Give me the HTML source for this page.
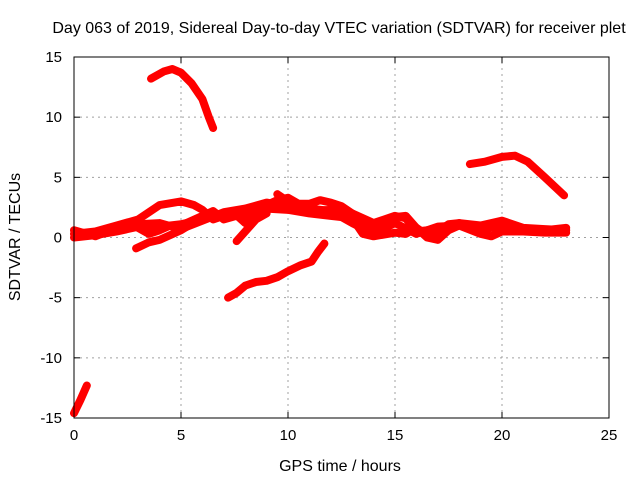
<!DOCTYPE html>
<html><head><meta charset="utf-8"><style>
body{margin:0;background:#fff}
svg{display:block;font-family:"Liberation Sans",sans-serif}
</style></head><body>
<svg id="chart" width="640" height="480">
<text x="339" y="33" font-size="16" text-anchor="middle">Day 063 of 2019, Sidereal Day-to-day VTEC variation (SDTVAR) for receiver plet</text>
<text x="340" y="471" font-size="16" text-anchor="middle">GPS time / hours</text>
<text x="20" y="237" font-size="16" text-anchor="middle" transform="rotate(-90 20 237)">SDTVAR / TECUs</text>
<g id="grid"></g><g id="series"></g>
<rect x="74" y="57" width="535" height="361" fill="none" stroke="#000" stroke-width="1"/>
</svg>
<script>
const xTicks=[0,5,10,15,20,25];
const yTicks=[-15,-10,-5,0,5,10,15];
const trackTop=[[3.6,13.2],[4.2,13.8],[4.6,14.0],[5.0,13.7],[5.5,12.8],[6.0,11.5],[6.3,10.0],[6.5,9.1]];
const trackUpperRight=[[18.5,6.1],[19.2,6.3],[20.0,6.7],[20.6,6.8],[21.2,6.3],[22.0,5.0],[22.9,3.5]];
const trackLowRise=[[7.2,-5.0],[7.6,-4.6],[8.0,-4.0],[8.5,-3.7],[9.0,-3.6],[9.5,-3.3],[10.0,-2.8],[10.6,-2.3],[11.1,-2.0],[11.4,-1.2],[11.7,-0.5]];
const trackBottomLeft=[[0.0,-14.6],[0.3,-13.5],[0.6,-12.3]];
const trackE=[[0,0.3],[1,0.5],[2,1.0],[3,1.5],[4,2.7],[5,3.0],[5.6,2.7],[6,2.3],[6.5,1.5],[7,1.8],[7.5,2.0],[8,1.2],[8.3,1.8],[9,2.7],[9.5,3.1],[10,3.3],[10.5,2.8],[11,2.8],[11.5,3.1],[12,2.9],[12.5,2.6],[13,2.0],[13.5,1.0],[14,0.5],[14.5,1.0],[15,1.7],[15.5,1.8],[16,0.8],[16.5,0.2],[17,0.5],[17.5,1.1],[18,1.2],[19,1.0],[20,1.4],[21,0.8],[22,0.7],[23,0.6]];
const trackF=[[0,0],[1,0.2],[2,0.5],[3,0.9],[4,1.0],[5,1.0],[6,1.8],[6.5,2.2],[7,1.5],[8,2.0],[9,2.4],[10,2.3],[11,2.0],[12,1.8],[13,1.6],[13.5,0.3],[14,0.1],[15,0.4],[15.5,0.3],[16,0.8],[16.5,0.0],[17,-0.2],[17.5,0.6],[18,1.0],[19,0.3],[19.5,0.1],[20,0.5],[21,0.5],[22,0.4],[23,0.4]];
const trackK=[[0,0.6],[1,0.1],[2,0.8],[3,1.1],[4,1.2],[5,0.7],[6,1.4],[7,2.1],[8,2.4],[9,2.9],[10,2.6],[11,2.4],[12,2.2],[13,1.2],[14,0.3],[15,1.2],[16,0.3],[17,0.9],[18,1.0],[19,0.6],[20,1.0],[21,0.7],[22,0.6],[23,0.8]];
const trackG=[[3,0.8],[3.5,0.3],[4,0.6],[4.5,1.0],[5,1.1],[6,1.5],[6.5,2.0]];
const trackH=[[2.9,-0.9],[3.5,-0.4],[4,-0.2],[5,0.6],[6,1.7]];
const trackI=[[7.6,-0.3],[8.0,0.5],[8.5,1.5],[9,2.0]];
const trackJ=[[9.5,3.6],[10,3.0],[10.5,2.4],[11,2.2],[12,2.3],[13,2.0],[14,1.2],[15,1.8],[15.5,1.6],[16,0.5],[17,0.7],[18,1.2]];
const tracks=[trackTop,trackUpperRight,trackLowRise,trackBottomLeft,trackE,trackF,trackK,trackG,trackH,trackI,trackJ];
const X0=74,X1=609,Y0=418,Y1=57;
const sx=h=>X0+(h-0)/25*(X1-X0);
const sy=v=>Y0-(v+15)/30*(Y0-Y1);
const NS='http://www.w3.org/2000/svg';
const grid=document.getElementById('grid'),ser=document.getElementById('series');
function mk(t,a,p){const e=document.createElementNS(NS,t);for(const k in a)e.setAttribute(k,a[k]);p.appendChild(e);return e;}
xTicks.forEach(t=>{const x=sx(t);
 if(t>0&&t<25){const l=mk('line',{x1:x,x2:x,y1:Y0,y2:Y1,stroke:'#a0a0a0','stroke-dasharray':'2,4'},grid);
 
 }
 const tx=mk('text',{x:x,y:Y0+22,'font-size':15,'text-anchor':'middle'},grid);tx.textContent=t;
 
 
 mk('line',{x1:x,x2:x,y1:Y0,y2:Y0-6,stroke:'#000'},grid);mk('line',{x1:x,x2:x,y1:Y1,y2:Y1+6,stroke:'#000'},grid);});
yTicks.forEach(t=>{const y=sy(t);
 if(t>-15&&t<15){const l=mk('line',{x1:X0,x2:X1,y1:y,y2:y,stroke:'#a0a0a0','stroke-dasharray':'2,4'},grid);
 
 }
 const tx=mk('text',{x:X0-12,y:y+5,'font-size':15,'text-anchor':'end'},grid);tx.textContent=t;
 
 
 mk('line',{x1:X0,x2:X0+6,y1:y,y2:y,stroke:'#000'},grid);mk('line',{x1:X1,x2:X1-6,y1:y,y2:y,stroke:'#000'},grid);});
tracks.forEach(tr=>{const pts=tr.map(p=>sx(p[0])+','+sy(p[1])).join(' ');
 const pl=mk('polyline',{points:pts,fill:'none',stroke:'#ff0000','stroke-width':8,'stroke-linejoin':'round','stroke-linecap':'round'},ser);
 
 });
</script>
</body></html>
